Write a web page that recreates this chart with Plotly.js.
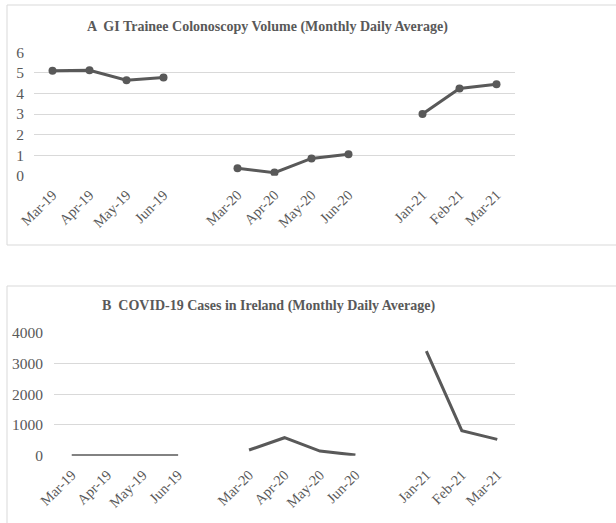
<!DOCTYPE html>
<html>
<head>
<meta charset="utf-8">
<script src="https://cdn.plot.ly/plotly-3.0.1.min.js"></script>
<style>html,body{margin:0;padding:0;background:#fff;}#chart{width:616px;height:523px;}</style>
</head>
<body>
<div id="chart"></div>
<script>
var categories = ["Mar-19","Apr-19","May-19","Jun-19"," ","Mar-20","Apr-20","May-20","Jun-20","  ","Jan-21","Feb-21","Mar-21"];
var colonoscopyVolume = [5.1, 5.13, 4.64, 4.77, null, 0.36, 0.15, 0.84, 1.04, null, 3.0, 4.24, 4.45];
var covidCases = [0, 0, 0, 0, null, 185, 585, 150, 20, null, 3400, 815, 530];
var titleA = "A  GI Trainee Colonoscopy Volume (Monthly Daily Average)";
var titleB = "B  COVID-19 Cases in Ireland (Monthly Daily Average)";

var grey = "#595959";
var serif = "Liberation Serif, Times New Roman, serif";
var H = 523, W = 616;
function py(p){ return 1 - p / H; }
function px(p){ return p / W; }

var traces = [
  {x: categories, y: colonoscopyVolume, type: "scatter", mode: "lines+markers",
   line: {color: grey, width: 3}, marker: {color: grey, size: 8},
   xaxis: "x", yaxis: "y", connectgaps: false, hoverinfo: "x+y"},
  {x: categories, y: covidCases, type: "scatter", mode: "lines",
   line: {color: grey, width: 3},
   xaxis: "x2", yaxis: "y2", connectgaps: false, hoverinfo: "x+y"}
];

var xCommon = {type: "category", categoryorder: "array", categoryarray: categories,
  tickangle: -45, showgrid: false, zeroline: false, showline: false, ticks: "",
  tickfont: {family: serif, size: 14.5, color: grey}, range: [-0.5, 12.5], fixedrange: true,
  ticklabelstandoff: 7};
var yCommon = {showgrid: true, gridcolor: "#d9d9d9", gridwidth: 1, zeroline: false, showline: false,
  ticks: "", tickfont: {family: serif, size: 15.5, color: grey}, fixedrange: true};

var layout = {
  width: W, height: H,
  margin: {l: 0, r: 0, t: 0, b: 0},
  paper_bgcolor: "#fff", plot_bgcolor: "#fff",
  showlegend: false,
  xaxis: Object.assign({}, xCommon, {domain: [px(34), px(515)], anchor: "y"}),
  yaxis: Object.assign({}, yCommon, {domain: [py(175.7), py(52.3)], range: [0, 6], dtick: 1, anchor: "x", ticklabelstandoff: 9}),
  xaxis2: Object.assign({}, xCommon, {domain: [px(54), px(515)], anchor: "y2"}),
  yaxis2: Object.assign({}, yCommon, {domain: [py(455.7), py(332.7)], range: [0, 4000], dtick: 1000, anchor: "x2", ticklabelstandoff: 10}),
  annotations: [
    {text: "<b>" + titleA + "</b>", xref: "paper", yref: "paper", x: px(267), y: py(27),
     xanchor: "center", yanchor: "middle", showarrow: false, font: {family: serif, size: 14, color: grey}},
    {text: "<b>" + titleB + "</b>", xref: "paper", yref: "paper", x: px(268), y: py(306),
     xanchor: "center", yanchor: "middle", showarrow: false, font: {family: serif, size: 14, color: grey}}
  ],
  shapes: [
    {type: "rect", xref: "paper", yref: "paper", x0: px(7), x1: px(620), y0: py(245), y1: py(5),
     line: {color: "#d9d9d9", width: 1}, fillcolor: "rgba(0,0,0,0)"},
    {type: "rect", xref: "paper", yref: "paper", x0: px(7), x1: px(620), y0: py(530), y1: py(286),
     line: {color: "#d9d9d9", width: 1}, fillcolor: "rgba(0,0,0,0)"}
  ]
};

Plotly.newPlot("chart", traces, layout, {displayModeBar: false, staticPlot: true});
</script>
</body>
</html>
